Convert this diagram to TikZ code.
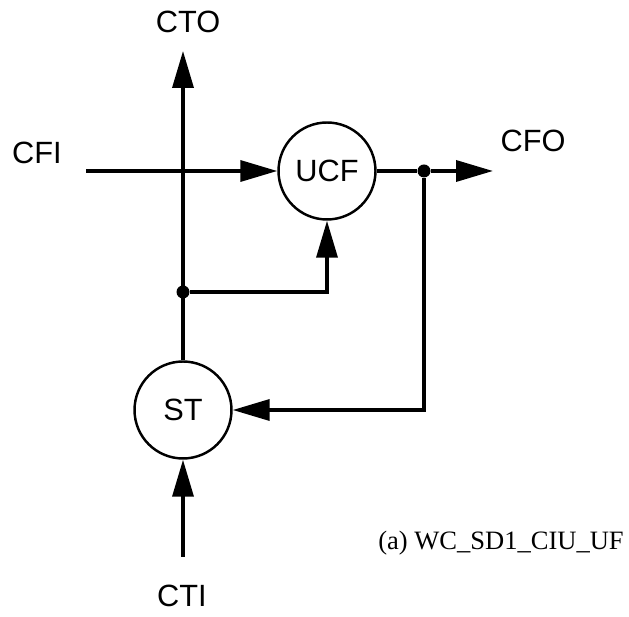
\documentclass[tikz,border=0pt]{standalone}
\usepackage{fontspec}
\setmainfont{Liberation Serif}
\setsansfont{Liberation Sans}
\usetikzlibrary{arrows.meta,positioning}

\begin{document}
\begin{tikzpicture}[
    x=0.02cm, y=-0.02cm,
    proc/.style={draw, circle, line width=1.4pt, minimum size=1.94cm, inner sep=0pt, font=\sffamily\fontsize{17.5}{20}\selectfont},
    port/.style={inner sep=0pt, font=\sffamily\fontsize{17.5}{20}\selectfont},
    junction/.style={circle, fill, inner sep=0pt, minimum size=0.26cm},
    wire/.style={line width=2pt},
    arrow/.style={wire, -{Triangle[length=0.74cm, width=0.42cm]}}
]
    \useasboundingbox (0,0) rectangle (629,617);

    \node[proc] (ucf) at (327,171) {UCF};
    \node[proc] (st) at (183,410) {ST};
    \node[port] (cto) at (188,22) {CTO};
    \node[port] (cfi) at (37,153) {CFI};
    \node[port] (cfo) at (533,141) {CFO};
    \node[port] (cti) at (182,596) {CTI};
    \node[junction] (split) at (424,171) {};
    \node[junction] (tap) at (183,292) {};
    \coordinate (ctotip) at (183,51);
    \coordinate (cfiend) at (86,171);
    \coordinate (cfotip) at (493,171);
    \coordinate (ctiend) at (183,557);
    \node[inner sep=0pt, anchor=base west, font=\fontsize{15.1}{18}\selectfont] (caption) at (378,550) {(a) WC\_SD1\_CIU\_UF};

    \draw[arrow] (st.north) -- (ctotip);
    \draw[arrow] (cfiend) -- (ucf.west);
    \draw[wire] (ucf.east) -- (split);
    \draw[arrow] (split) -- (cfotip);
    \draw[arrow] (split) |- (st.east);
    \draw[arrow] (tap) -| (ucf.south);
    \draw[arrow] (ctiend) -- (st.south);
\end{tikzpicture}
\end{document}
